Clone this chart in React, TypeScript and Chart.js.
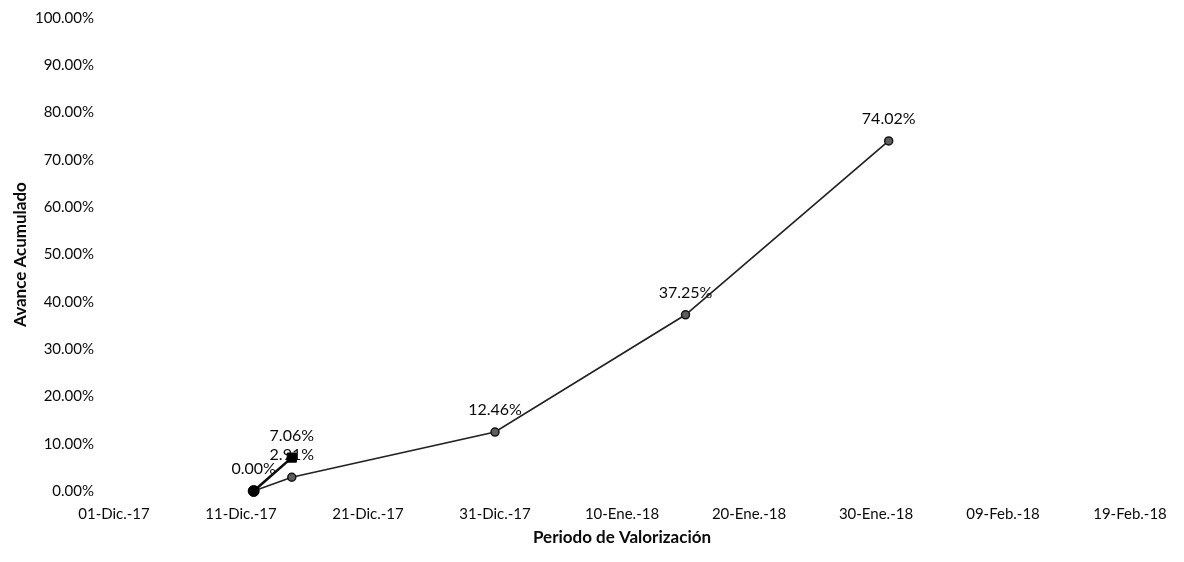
import React, { useEffect, useRef } from "react";
import { Chart, registerables } from "chart.js";

Chart.register(...registerables);

// ---- data ----
const axisStartDate = "2017-12-01";
const tickStepDays = 10;
const xTickLabels = [
  "01-Dic.-17",
  "11-Dic.-17",
  "21-Dic.-17",
  "31-Dic.-17",
  "10-Ene.-18",
  "20-Ene.-18",
  "30-Ene.-18",
  "09-Feb.-18",
  "19-Feb.-18",
];
const yMin = 0;
const yMax = 100;
const yStep = 10;

// Avance acumulado real (valorizaciones)
const realDates = ["2017-12-12", "2017-12-15", "2017-12-31", "2018-01-15", "2018-01-31"];
const realValues = [0, 2.91, 12.46, 37.25, 74.02];

// Primer tramo (marcador cuadrado)
const firstDates = ["2017-12-12", "2017-12-15"];
const firstValues = [0, 7.06];

const xTitle = "Periodo de Valorización";
const yTitle = "Avance Acumulado";

// ---- helpers ----
const DAY_MS = 86400000;
function dayOffset(d: string): number {
  return Math.round(
    (Date.parse(d + "T00:00:00Z") - Date.parse(axisStartDate + "T00:00:00Z")) / DAY_MS
  );
}
function toPoints(dates: string[], values: number[]) {
  return dates.map((d, i) => ({ x: dayOffset(d), y: values[i] }));
}

const FONT_FAMILY = "Lato, 'Open Sans', sans-serif";
const TEXT_COLOR = "#0a0a0a";

const pointLabelPlugin = {
  id: "pointLabels",
  afterDatasetDraw(chart: any, args: any) {
    const ds = chart.data.datasets[args.index];
    if (!ds.showPointLabels) return;
    const ctx = chart.ctx;
    ctx.save();
    ctx.font = `16px ${FONT_FAMILY}`;
    ctx.fillStyle = TEXT_COLOR;
    ctx.textAlign = "center";
    ctx.textBaseline = "middle";
    args.meta.data.forEach((el: any, i: number) => {
      if (ds.hideLabelAt && ds.hideLabelAt.includes(i)) return;
      const v = ds.data[i].y as number;
      ctx.fillText(v.toFixed(2) + "%", el.x, el.y - 22);
    });
    ctx.restore();
  },
};

export default function App() {
  const canvasRef = useRef<HTMLCanvasElement | null>(null);

  useEffect(() => {
    if (!canvasRef.current) return;
    const xMax = (xTickLabels.length - 1) * tickStepDays;
    const chart = new Chart(canvasRef.current, {
      type: "line",
      data: {
        datasets: [
          {
            label: "Primer tramo",
            data: toPoints(firstDates, firstValues),
            borderColor: "#0d0d0d",
            borderWidth: 2.6,
            pointStyle: ["circle", "rect"],
            pointRadius: [5.5, 6.5],
            pointBackgroundColor: "#000",
            pointBorderColor: "#000",
            pointBorderWidth: 1,
            tension: 0,
            clip: false,
            showPointLabels: true,
          } as any,
          {
            label: "Avance acumulado",
            data: toPoints(realDates, realValues),
            borderColor: "#222",
            borderWidth: 1.7,
            pointStyle: "circle",
            pointRadius: 4,
            pointBackgroundColor: "#5e5e5e",
            pointBorderColor: "#151515",
            pointBorderWidth: 1.5,
            tension: 0,
            clip: false,
            showPointLabels: true,
            hideLabelAt: [0],
          } as any,
        ],
      },
      options: {
        animation: false,
        responsive: false,
        maintainAspectRatio: false,
        layout: { padding: { left: 0, right: 54, top: 18, bottom: 0 } },
        plugins: {
          legend: { display: false },
          tooltip: { enabled: false },
        },
        scales: {
          x: {
            type: "linear",
            min: 0,
            max: xMax,
            afterBuildTicks: (scale: any) => {
              scale.ticks = xTickLabels.map((_, i) => ({ value: i * tickStepDays }));
            },
            afterFit: (scale: any) => {
              scale.height = 71;
            },
            ticks: {
              autoSkip: false,
              maxRotation: 0,
              padding: 14,
              color: TEXT_COLOR,
              font: { family: FONT_FAMILY, size: 15 },
              callback: (v: any) => xTickLabels[Math.round(Number(v) / tickStepDays)] ?? "",
            },
            grid: { display: false, drawTicks: false },
            border: { display: false },
            title: {
              display: true,
              text: xTitle,
              color: TEXT_COLOR,
              font: { family: FONT_FAMILY, size: 17, weight: "bold" },
              padding: { top: 0, bottom: 14 },
            },
          },
          y: {
            type: "linear",
            min: yMin,
            max: yMax,
            afterFit: (scale: any) => {
              scale.width = 114;
              scale.paddingTop = 0;
              scale.paddingBottom = 0;
            },
            ticks: {
              stepSize: yStep,
              padding: 20,
              color: TEXT_COLOR,
              font: { family: FONT_FAMILY, size: 15 },
              callback: (v: any) => Number(v).toFixed(2) + "%",
            },
            grid: { display: false, drawTicks: false },
            border: { display: false },
            title: {
              display: true,
              text: yTitle,
              color: TEXT_COLOR,
              font: { family: FONT_FAMILY, size: 17, weight: "bold" },
              padding: { top: 10, bottom: 0 },
            },
          },
        },
      },
      plugins: [pointLabelPlugin],
    });
    return () => chart.destroy();
  }, []);

  return (
    <div
      style={{
        position: "fixed",
        left: 0,
        top: 0,
        width: 1184,
        height: 562,
        background: "#fff",
      }}
    >
      <canvas ref={canvasRef} width={1184} height={562} style={{ display: "block" }} />
    </div>
  );
}
